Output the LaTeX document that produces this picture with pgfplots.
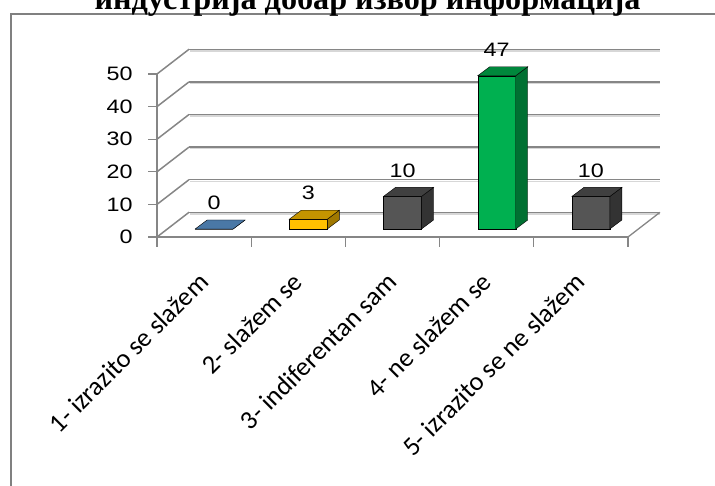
\documentclass[border=0pt]{standalone}
\usepackage{pgfplots}
\pgfplotsset{compat=1.18}
\usepackage{fontspec}
\setmainfont{Carlito}
\newfontfamily\numfont[FakeStretch=1.2]{Liberation Sans}
\newfontfamily\titlefont{Liberation Serif}
\definecolor{gridc}{RGB}{134,134,134}
\definecolor{shadowc}{RGB}{215,215,215}
\definecolor{framec}{RGB}{128,128,128}
\pgfdeclareplotmark{nothing}{}
\newcommand\numsize{\fontsize{19.5}{20}\selectfont}
% 3D bar drawn at each data point (x = category, y = value)
\pgfplotsset{
  bar3d/.style n args={3}{
    scatter, only marks, mark=nothing,
    visualization depends on={rawy \as \barval},
    scatter/@pre marker code/.code={%
      \pgfmathsetmacro\h{\barval*3.26}%
      \fill[#1] (-9bp,8bp-\h bp) rectangle (29bp,8bp);
      \fill[#2] (29bp,8bp-\h bp) -- (41bp,17bp-\h bp) -- (41bp,17bp) -- (29bp,8bp) -- cycle;
      \fill[#3] (-9bp,8bp) -- (29bp,8bp) -- (41bp,17bp) -- (3bp,17bp) -- cycle;
      \node[anchor=south, inner sep=0pt, font=\numfont\numsize] at (10bp,27bp) {\pgfmathprintnumber{\barval}};
    },
    scatter/@post marker code/.code={},
  }
}
\begin{document}
\begin{tikzpicture}[x=1bp,y=1bp]
\begin{axis}[
  scale only axis, width=471bp, height=163bp,
  xmin=-0.5, xmax=4.5, ymin=0, ymax=50,
  clip=false,
  axis x line*=bottom, axis y line*=left,
  axis line style={-, gridc, line width=1.3bp},
  /pgf/number format/assume math mode=true,
  ytick={0,10,20,30,40,50},
  yticklabel style={font=\numfont\numsize, xshift=-12bp},
  ytick style={gridc, line width=1.3bp},
  tick align=outside,
  major tick length=9bp,
  xtick={0,1,2,3,4},
  xticklabels={1- izrazito se slažem, 2- slažem se, 3- indiferentan sam, 4- ne slažem se, 5- izrazito se ne slažem},
  xtick style={draw=none},
  xticklabel style={xshift=2bp, yshift=-29bp, rotate=45, anchor=east, font=\fontsize{26.5}{26.5}\selectfont},
  extra x ticks={-0.5,0.5,1.5,2.5,3.5,4.5},
  extra x tick labels={},
  extra x tick style={xtick style={draw=gridc, line width=1.3bp}, major tick length=10bp},
  ymajorgrids,
  major grid style={gridc, line width=1.5bp, xshift=32bp, yshift=24.7bp},
]
\coordinate (O) at (axis cs:-0.5,0);
\pgfplotsinvokeforeach{0,10,20,30,40,50}{
  \draw[shadowc, line width=1.3bp] ([xshift=33bp,yshift=23.1bp]axis cs:-0.5,#1) -- ([xshift=32bp,yshift=23.1bp]axis cs:4.5,#1);
  \draw[gridc, line width=1.5bp] (axis cs:-0.5,#1) -- ++(32bp,24.7bp);
}
\draw[gridc, line width=1.3bp] (axis cs:4.5,0) -- ++(32bp,24.7bp);
\addplot[bar3d={fill={rgb,255:red,74;green,120;blue,166}}{fill={rgb,255:red,50;green,90;blue,130}}{fill={rgb,255:red,74;green,120;blue,166}}] coordinates {(0,0)};
\addplot[bar3d={fill={rgb,255:red,255;green,192;blue,0}}{fill={rgb,255:red,160;green,120;blue,0}}{fill={rgb,255:red,196;green,148;blue,0}}] coordinates {(1,3)};
\addplot[bar3d={fill={rgb,255:red,85;green,85;blue,85}}{fill={rgb,255:red,51;green,51;blue,51}}{fill={rgb,255:red,64;green,64;blue,64}}] coordinates {(2,10)};
\addplot[bar3d={fill={rgb,255:red,0;green,176;blue,80}}{fill={rgb,255:red,0;green,112;blue,50}}{fill={rgb,255:red,0;green,135;blue,60}}] coordinates {(3,47)};
\addplot[bar3d={fill={rgb,255:red,85;green,85;blue,85}}{fill={rgb,255:red,51;green,51;blue,51}}{fill={rgb,255:red,64;green,64;blue,64}}] coordinates {(4,10)};
\end{axis}
\pgfresetboundingbox
\begin{scope}[shift={(O)}, xshift=-157bp, yshift=-249bp]
\useasboundingbox (0,0) rectangle (715,486);
\draw[framec, line width=1.5bp] (11,0) -- (11,472) -- (716,472);
\node[anchor=base, inner sep=0pt, font=\titlefont\bfseries\fontsize{32.3}{32}\selectfont] at (367.5,476) {индустрија добар извор информација};
\end{scope}
\end{tikzpicture}
\end{document}
